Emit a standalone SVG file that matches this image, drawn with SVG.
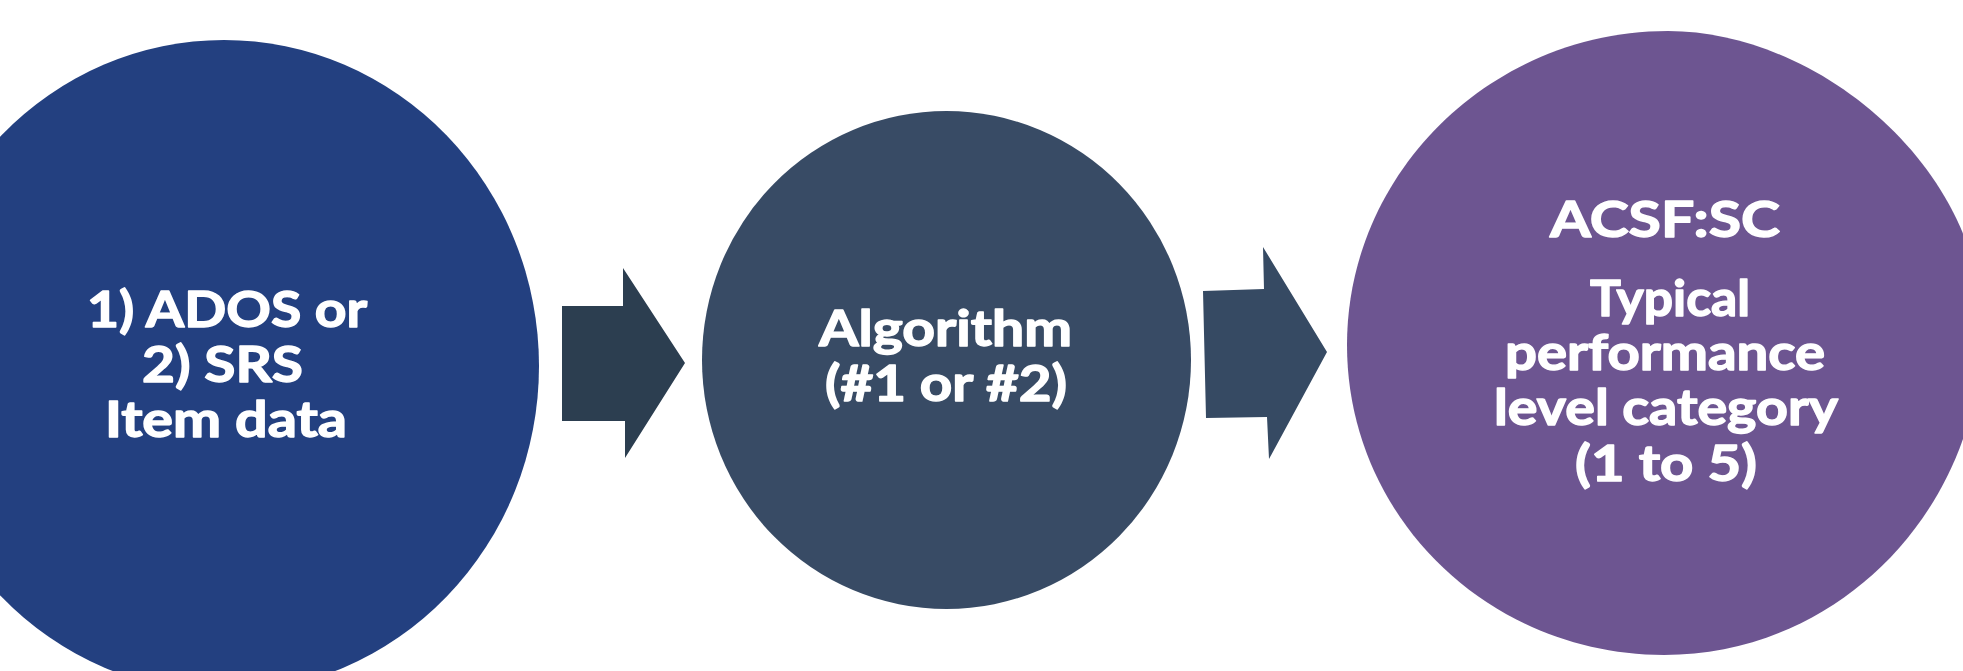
<svg xmlns="http://www.w3.org/2000/svg" width="1963" height="671" viewBox="0 0 1963 671">
  <style>
    .lbl { font-family: Lato, "Open Sans", "Liberation Sans", sans-serif; font-weight: 700; font-size: 49px; fill: #ffffff; stroke: #ffffff; stroke-width: 1.4px; stroke-linejoin: round; }
  </style>
  <rect x="0" y="0" width="1963" height="671" fill="#ffffff"/>
  <g id="node-input">
    <ellipse cx="224" cy="366" rx="315" ry="326" fill="#234080"/>
    <text class="lbl" x="87" y="327" textLength="280" lengthAdjust="spacingAndGlyphs">1) ADOS or</text>
    <text class="lbl" x="142" y="382" textLength="161" lengthAdjust="spacingAndGlyphs">2) SRS</text>
    <text class="lbl" x="105" y="437" textLength="242" lengthAdjust="spacingAndGlyphs">Item data</text>
  </g>
  <g id="node-algorithm">
    <ellipse cx="946.5" cy="360" rx="244.5" ry="249" fill="#384B65"/>
    <text class="lbl" x="819" y="346" textLength="253" lengthAdjust="spacingAndGlyphs">Algorithm</text>
    <text class="lbl" x="825" y="401" textLength="242" lengthAdjust="spacingAndGlyphs">(#1 or #2)</text>
  </g>
  <g id="node-output">
    <path d="M1668,31 C1820,31 1982,170 1982,327 C1982,508 1840,655 1664,655 C1490,655 1347,518 1347,345 C1347,172 1492,31 1668,31 Z" fill="#6D5591"/>
    <text class="lbl" x="1550" y="237" textLength="230" lengthAdjust="spacingAndGlyphs">ACSF:SC</text>
    <text class="lbl" x="1590" y="316" textLength="160" lengthAdjust="spacingAndGlyphs">Typical</text>
    <text class="lbl" x="1505" y="370" textLength="320" lengthAdjust="spacingAndGlyphs">performance</text>
    <text class="lbl" x="1494" y="425" textLength="344" lengthAdjust="spacingAndGlyphs">level category</text>
    <text class="lbl" x="1575" y="481" textLength="182" lengthAdjust="spacingAndGlyphs">(1 to 5)</text>
  </g>
  <g id="connectors">
    <polygon points="562,306 623,306 623,268 685,363 625,458 625,421 562,421" fill="#2C3E50"/>
    <polygon points="1203,291 1264,289 1263,247 1327,352 1269,459 1267,417 1206,418" fill="#364A63"/>
  </g>
</svg>
